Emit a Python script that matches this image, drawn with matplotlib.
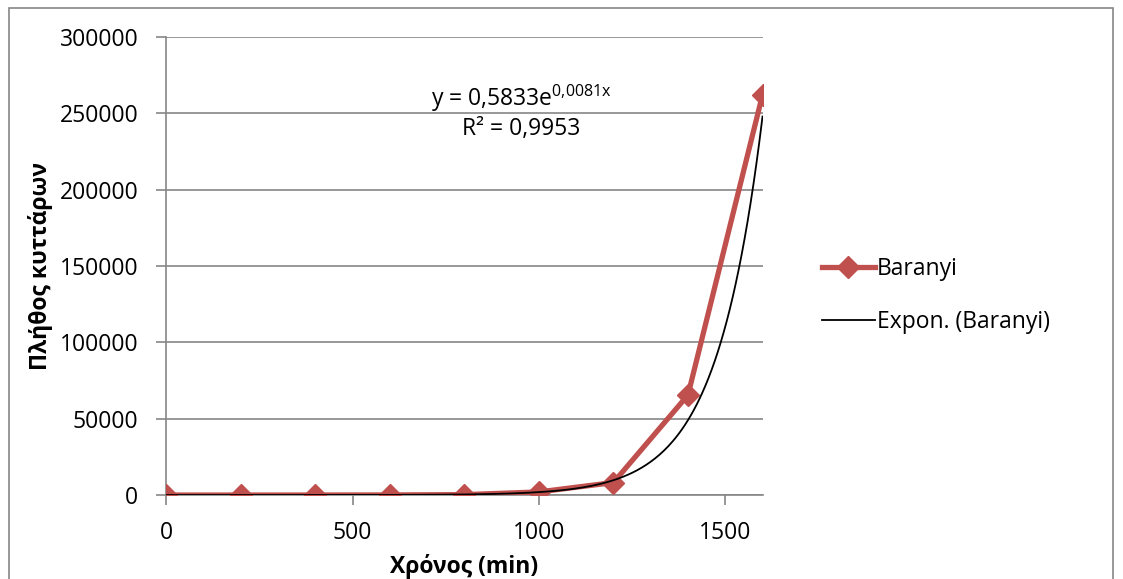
import numpy as np
import matplotlib.pyplot as plt
from matplotlib.patches import Rectangle

plt.rcParams['font.family'] = ['Open Sans', 'DejaVu Sans']

# growth data (time in min, cell count)
time_min = [0, 200, 400, 600, 800, 1000, 1200, 1400, 1600]
cells = [1, 4, 16, 64, 256, 2048, 8192, 65536, 262144]

# exponential trendline coefficients
fit_a = 0.5833
fit_b = 0.0081
fit_r2 = "0,9953"

y_ticks = [0, 50000, 100000, 150000, 200000, 250000, 300000]
x_ticks = [0, 500, 1000, 1500]

red = '#C0504D'
grid_gray = '#868686'
fs = 16.5

fig = plt.figure(figsize=(11.23, 5.79), dpi=100)
ax = fig.add_axes([0.148, 0.145, 0.531, 0.791])

# outer chart border
fig.patches.append(Rectangle((0.008, -0.01), 0.983, 0.996, transform=fig.transFigure,
                             fill=False, edgecolor=grid_gray, lw=1.2))

ax.plot(time_min, cells, color=red, lw=3.8, marker='D', markersize=11,
        label='Baranyi', zorder=3)

xs = np.linspace(0, 1600, 400)
ax.plot(xs, fit_a * np.exp(fit_b * xs), color='black', lw=1.3,
        label='Expon. (Baranyi)', zorder=4)

ax.set_xlim(0, 1600)
ax.set_ylim(0, 300000)
ax.set_xticks(x_ticks)
ax.set_yticks(y_ticks)
ax.grid(axis='y', color=grid_gray, lw=1.2)
ax.set_axisbelow(True)

for side in ['top', 'right']:
    ax.spines[side].set_visible(False)
for side in ['left', 'bottom']:
    ax.spines[side].set_color(grid_gray)
    ax.spines[side].set_linewidth(1.2)

ax.tick_params(axis='both', colors=grid_gray, labelcolor='black',
               labelsize=fs, length=7, width=1.2)
ax.tick_params(axis='x', pad=12)
ax.tick_params(axis='y', pad=13)

ax.set_xlabel('Χρόνος (min)', fontsize=fs, fontweight='bold', labelpad=6)
ax.set_ylabel('Πλήθος κυττάρων', fontsize=fs, fontweight='bold', labelpad=5)

ax.text(0.595, 0.866, r'y = 0,5833e$^{\mathregular{0{,}0081x}}$',
        transform=ax.transAxes, ha='center', va='center', fontsize=fs)
ax.text(0.595, 0.80, 'R² = ' + fit_r2, transform=ax.transAxes,
        ha='center', va='center', fontsize=fs)

ax.legend(loc='center left', bbox_to_anchor=(1.065, 0.435), frameon=False,
          fontsize=fs, handlelength=2.3, handletextpad=0.1, labelspacing=1.25)

fig.savefig('out.png', dpi=100)
